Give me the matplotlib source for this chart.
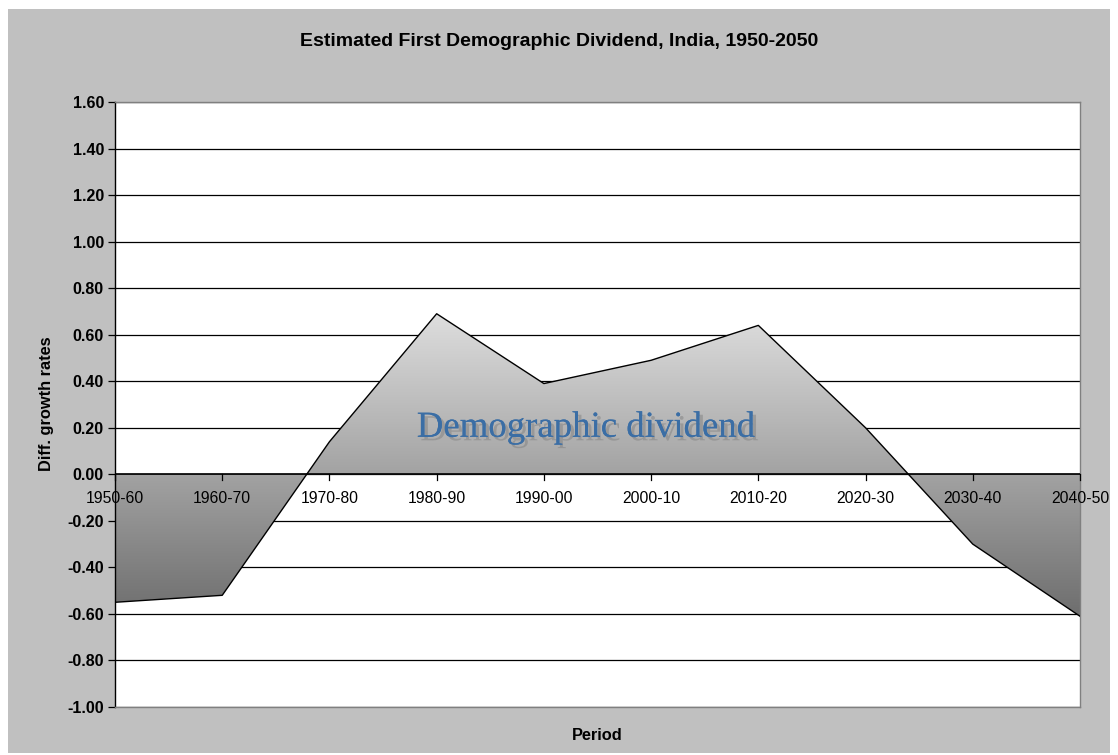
import numpy as np
import matplotlib
matplotlib.use("Agg")
import matplotlib.pyplot as plt
from matplotlib.patches import Polygon, Rectangle
import matplotlib.patheffects as pe

periods = ["1950-60", "1960-70", "1970-80", "1980-90", "1990-00",
           "2000-10", "2010-20", "2020-30", "2030-40", "2040-50"]
dividend = [-0.55, -0.52, 0.14, 0.69, 0.39, 0.49, 0.64, 0.20, -0.30, -0.61]
yticks = [-1.0, -0.8, -0.6, -0.4, -0.2, 0.0, 0.2, 0.4, 0.6, 0.8, 1.0, 1.2, 1.4, 1.6]

W, H = 1118, 755
fig = plt.figure(figsize=(W / 100, H / 100), dpi=100)
fig.patch.set_facecolor("white")
# grey chart background with a thin white margin
fig.add_artist(Rectangle((8 / W, 2 / H), (W - 16) / W, (H - 11) / H,
                         transform=fig.transFigure, facecolor="#C0C0C0",
                         edgecolor="none", zorder=0))

ax = fig.add_axes([115 / W, (H - 707) / H, 965 / W, 605 / H])
ax.set_facecolor("white")
x = np.arange(len(periods))
ax.set_xlim(0, len(periods) - 1)
ax.set_ylim(-1.0, 1.6)

for yv in yticks:
    ax.axhline(yv, color="black", lw=0.9, zorder=1)

# gradient-filled area between the series and zero
ymin, ymax = min(dividend), max(dividend)
grad = np.linspace(0, 1, 256).reshape(-1, 1)
img = ax.imshow(grad, cmap=matplotlib.colors.LinearSegmentedColormap.from_list(
    "g", ["#6E6E6E", "#DEDEDE"]), aspect="auto",
    extent=(0, len(periods) - 1, ymin, ymax), origin="lower", zorder=2)
verts = [(0, 0)] + list(zip(x, dividend)) + [(len(periods) - 1, 0)]
poly = Polygon(verts, closed=True, facecolor="none", edgecolor="none",
               transform=ax.transData)
ax.add_patch(poly)
img.set_clip_path(poly)
ax.plot(x, dividend, color="black", lw=1.0, zorder=3)
ax.set_xlim(0, len(periods) - 1)
ax.set_ylim(-1.0, 1.6)

# horizontal axis at zero with category ticks
ax.axhline(0, color="black", lw=1.2, zorder=4)
for xi, lab in zip(x, periods):
    ax.plot([xi, xi], [0, -0.025], color="black", lw=0.9, zorder=4,
            clip_on=False)
    ax.text(xi, -0.105, lab, ha="center", va="center", fontsize=11.3,
            family="Liberation Sans", zorder=5)

ax.set_xticks([])
ax.set_yticks(yticks)
ax.set_yticklabels([f"{v:.2f}" for v in yticks], fontsize=11.5,
                   fontweight="bold", family="Liberation Sans")
ax.tick_params(axis="y", length=5, width=0.9, pad=3)
for side in ["top", "right", "bottom"]:
    ax.spines[side].set_color("#808080")
    ax.spines[side].set_linewidth(1.0)
ax.spines["left"].set_color("black")
ax.spines["left"].set_linewidth(1.0)

ax.text(4.39, 0.202, "Demographic dividend", ha="center", va="center",
        fontsize=26.5, color="#3B6EA5", family="Liberation Serif", zorder=6,
        path_effects=[pe.withSimplePatchShadow(offset=(2.5, -2.5),
                                               shadow_rgbFace="#7A7A7A",
                                               alpha=0.45),
                      pe.Normal()])

fig.text(559 / W, (H - 42) / H, "Estimated First Demographic Dividend, India, 1950-2050",
         ha="center", va="center", fontsize=14, fontweight="bold",
         family="Liberation Sans")
fig.text(597 / W, (H - 735) / H, "Period", ha="center", va="center",
         fontsize=11.8, fontweight="bold", family="Liberation Sans")
fig.text(47 / W, (H - 404) / H, "Diff. growth rates", ha="center", va="center",
         rotation=90, fontsize=11.8, fontweight="bold", family="Liberation Sans")

fig.savefig("out.png", dpi=100, facecolor=fig.get_facecolor())
